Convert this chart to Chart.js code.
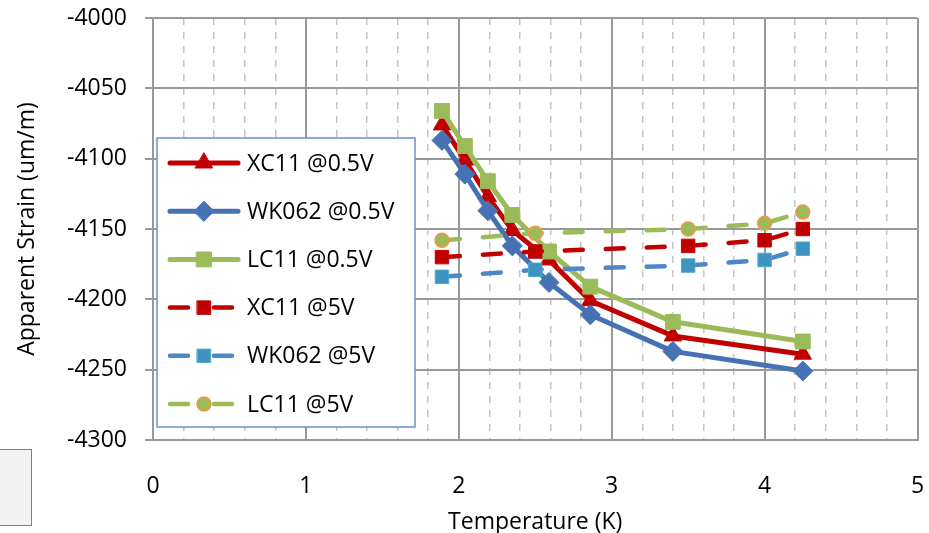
<!DOCTYPE html>
<html>
<head>
<meta charset="utf-8">
<script src="https://cdn.jsdelivr.net/npm/chart.js@4.4.1/dist/chart.umd.min.js"></script>
<style>
  html, body { margin: 0; padding: 0; background: #fff; }
  #wrap { position: relative; width: 929px; height: 533px; }
  #side { position: absolute; left: -1px; top: 449px; width: 31px; height: 75px; background: #f2f2f2; border: 1px solid #7f7f7f; }
</style>
</head>
<body>
<div id="wrap">
  <canvas id="chart" width="929" height="533"></canvas>
  <div id="side"></div>
</div>
<script>
// data
const seriesNames = ['XC11 @0.5V', 'WK062 @0.5V', 'LC11 @0.5V', 'XC11 @5V', 'WK062 @5V', 'LC11 @5V'];
const tempLow = [1.89, 2.04, 2.19, 2.35, 2.59, 2.86, 3.40, 4.25];
const tempHigh = [1.89, 2.50, 3.50, 4.00, 4.25];
const xc11Low = [-4076, -4101, -4127, -4151, -4172, -4201, -4226, -4239];
const wk062Low = [-4087, -4111, -4137, -4162, -4188, -4211, -4237, -4251];
const lc11Low = [-4066, -4091, -4116, -4140, -4166, -4191, -4216, -4230];
const xc11High = [-4170, -4166, -4162, -4158, -4150];
const wk062High = [-4184, -4179, -4176, -4172, -4164];
const lc11High = [-4158, -4153, -4150, -4146, -4138];
const xLabels = ['0', '1', '2', '3', '4', '5'];

const FONT = '"Open Sans", sans-serif';

const pts = (xs, ys) => xs.map((x, i) => ({ x: x, y: ys[i] }));
const isMajor = (v) => Math.abs(v - Math.round(v)) < 1e-6;

const styles = [
  { color: '#C00000', fill: '#C00000', edge: '#C00000', pointStyle: 'triangle', radius: 10, width: 5, dash: [] },
  { color: '#4672B4', fill: '#4672B4', edge: '#4672B4', pointStyle: 'rectRot', radius: 10, width: 5, dash: [] },
  { color: '#9BBB59', fill: '#9BBB59', edge: '#9BBB59', pointStyle: 'rect', radius: 10.5, width: 5, dash: [] },
  { color: '#C00000', fill: '#C00000', edge: '#C00000', pointStyle: 'rect', radius: 9.5, width: 4.5, dash: [18, 23] },
  { color: '#4F86C6', fill: '#3F93C0', edge: '#4BACC6', pointStyle: 'rect', radius: 9.5, width: 4.5, dash: [18, 23] },
  { color: '#9BBB59', fill: '#9BBB59', edge: '#F79646', pointStyle: 'circle', radius: 7, width: 4.5, dash: [18, 23] }
];
const seriesData = [
  pts(tempLow, xc11Low), pts(tempLow, wk062Low), pts(tempLow, lc11Low),
  pts(tempHigh, xc11High), pts(tempHigh, wk062High), pts(tempHigh, lc11High)
];

const datasets = seriesNames.map((name, i) => {
  const s = styles[i];
  return {
    label: name,
    data: seriesData[i],
    borderColor: s.color,
    borderWidth: s.width,
    borderDash: s.dash,
    borderCapStyle: 'round',
    borderJoinStyle: 'round',
    backgroundColor: s.fill,
    pointStyle: s.pointStyle,
    pointRadius: s.radius,
    pointHoverRadius: s.radius,
    pointBackgroundColor: s.fill,
    pointBorderColor: s.edge,
    pointBorderWidth: i === 5 ? 1.5 : 1,
    tension: 0,
    fill: false,
    order: 10 - i
  };
});

// legend sits inside the plot, like the original
const legendBox = { left: 4, top: 120, width: 258, height: 289, rowTop: 145, rowGap: 48.2 };

const insideLegend = {
  id: 'insideLegend',
  afterDatasetsDraw(chart) {
    const ctx = chart.ctx;
    const a = chart.chartArea;
    const bx = a.left + legendBox.left;
    const by = a.top + legendBox.top;
    ctx.save();
    ctx.fillStyle = '#ffffff';
    ctx.fillRect(bx, by, legendBox.width, legendBox.height);
    ctx.strokeStyle = '#6A8FC8';
    ctx.lineWidth = 1.5;
    ctx.strokeRect(bx, by, legendBox.width, legendBox.height);
    seriesNames.forEach((name, i) => {
      const s = styles[i];
      const y = a.top + legendBox.rowTop + i * legendBox.rowGap;
      const x0 = bx + 11;
      ctx.strokeStyle = s.color;
      ctx.lineWidth = s.width;
      ctx.lineCap = 'round';
      ctx.beginPath();
      if (s.dash.length) {
        ctx.setLineDash([18, 26]);
        ctx.moveTo(x0 + 2, y);
        ctx.lineTo(x0 + 64, y);
      } else {
        ctx.setLineDash([]);
        ctx.moveTo(x0 + 2, y);
        ctx.lineTo(x0 + 70, y);
      }
      ctx.stroke();
      ctx.setLineDash([]);
      ctx.fillStyle = s.fill;
      ctx.strokeStyle = s.edge;
      ctx.lineWidth = i === 5 ? 1.5 : 1;
      Chart.helpers.drawPoint(ctx, { pointStyle: s.pointStyle, radius: s.radius, rotation: 0, borderWidth: ctx.lineWidth }, x0 + 36, y);
      ctx.fillStyle = '#000000';
      ctx.font = '23px ' + FONT;
      ctx.textAlign = 'left';
      ctx.textBaseline = 'middle';
      ctx.fillText(name, bx + 90, y + 1);
    });
    ctx.restore();
  }
};

new Chart(document.getElementById('chart'), {
  type: 'line',
  data: { datasets: datasets },
  plugins: [insideLegend],
  options: {
    responsive: false,
    devicePixelRatio: 1,
    animation: false,
    layout: { padding: { left: 0, right: 9, top: 18, bottom: 0 } },
    plugins: { legend: { display: false }, tooltip: { enabled: false } },
    scales: {
      x: {
        type: 'linear',
        min: 0,
        max: 5,
        afterFit: (scale) => {
          scale.height = 93;
          scale.paddingLeft = 0;
          scale.paddingRight = 0;
        },
        ticks: {
          stepSize: 0.2,
          autoSkip: false,
          maxRotation: 0,
          padding: 33,
          color: '#000',
          font: { family: FONT, size: 23 },
          callback: (v) => isMajor(v) ? xLabels[Math.round(v)] : ''
        },
        grid: {
          drawTicks: false,
          color: (c) => isMajor(c.tick.value) ? '#999999' : '#c4c4c4',
          lineWidth: (c) => isMajor(c.tick.value) ? 2 : 1.5
        },
        border: {
          color: '#999999',
          width: 2,
          dash: (c) => (c.type === 'tick' && c.tick && !isMajor(c.tick.value)) ? [7, 7] : []
        },
        title: {
          display: true,
          text: 'Temperature (K)',
          color: '#000',
          font: { family: FONT, size: 23 },
          padding: { top: 0, bottom: -3 }
        }
      },
      y: {
        min: -4300,
        max: -4000,
        afterFit: (scale) => {
          scale.width = 153;
          scale.paddingTop = 0;
          scale.paddingBottom = 0;
        },
        ticks: {
          stepSize: 50,
          padding: 18,
          color: '#000',
          font: { family: FONT, size: 23 },
          callback: (v) => String(v)
        },
        grid: {
          color: '#999999',
          lineWidth: 2,
          tickLength: 8,
          tickColor: '#999999'
        },
        border: { color: '#999999', width: 2 },
        title: {
          display: true,
          text: 'Apparent Strain (um/m)',
          color: '#000',
          font: { family: FONT, size: 23 },
          padding: { top: 14, bottom: 0 }
        }
      }
    }
  }
});
</script>
</body>
</html>
